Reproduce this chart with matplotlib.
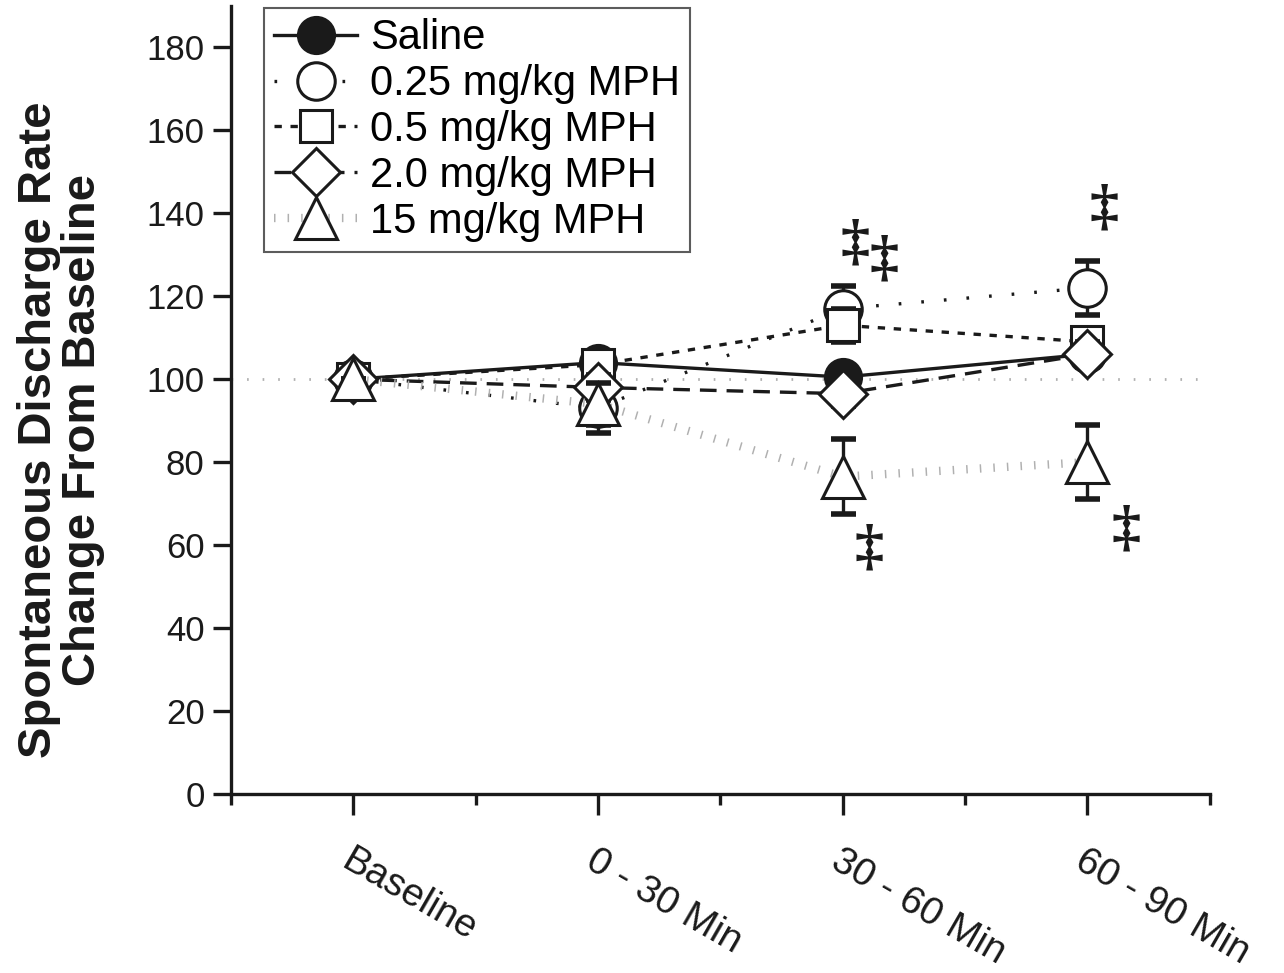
import matplotlib
matplotlib.use("Agg")
import matplotlib.pyplot as plt
import numpy as np

plt.rcParams['font.family'] = ['Liberation Sans', 'DejaVu Sans']

categories = ["Baseline", "0 - 30 Min", "30 - 60 Min", "60 - 90 Min"]
saline = [100, 104, 100.5, 106]
saline_err = [0, 2, 2, 2]
mph025 = [100, 93, 117, 122]
mph025_err = [0, 6, 5.5, 6.5]
mph05 = [100, 103.5, 113, 109]
mph05_err = [0, 2, 4, 3]
mph20 = [100, 98, 96.5, 106]
mph20_err = [0, 3, 3, 3]
mph15 = [100, 94, 76.5, 80]
mph15_err = [0, 5, 9, 9]

labels = ["Saline", "0.25 mg/kg MPH", "0.5 mg/kg MPH", "2.0 mg/kg MPH", "15 mg/kg MPH"]

# significance marks (x position in category units, y value)
sig_x = [2.05, 2.17, 2.11, 3.07, 3.16]
sig_y = [132.5, 128.5, 59, 141, 63.5]

fig = plt.figure(figsize=(12.84, 9.73), dpi=100)
ax = fig.add_axes([0.18, 0.184, 0.762, 0.81])

x = np.arange(len(categories))

ax.axhline(100, color='#b0b0b0', lw=2, linestyle=(0, (0.6, 5)), zorder=1)

styles = [
    dict(data=saline, err=saline_err, marker='o', mfc='#1a1a1a', ms=26, ls='-', lw=2.4, color='#1a1a1a'),
    dict(data=mph025, err=mph025_err, marker='o', mfc='white', ms=27, ls=(0, (0.8, 6)), lw=2.4, color='#1a1a1a'),
    dict(data=mph05, err=mph05_err, marker='s', mfc='white', ms=23, ls=(0, (2.2, 2.6)), lw=2.4, color='#1a1a1a'),
    dict(data=mph20, err=mph20_err, marker='D', mfc='white', ms=24, ls=(0, (5, 3)), lw=2.4, color='#1a1a1a'),
    dict(data=mph15, err=mph15_err, marker='^', mfc='white', ms=30, ls=(0, (0.18, 1.45)), lw=6, color='#b0b0b0'),
]

handles = []
for i, st in enumerate(styles):
    ax.errorbar(x, st['data'], yerr=st['err'], fmt='none', ecolor='#1a1a1a',
                elinewidth=2.4, capsize=9, capthick=4, zorder=2 + i)
    h, = ax.plot(x, st['data'], linestyle=st['ls'], lw=st['lw'], color=st['color'],
                 marker=st['marker'], ms=st['ms'], mfc=st['mfc'], mec='#1a1a1a',
                 mew=2.2, zorder=3 + i, dash_capstyle='butt')
    handles.append(h)

for sx, sy in zip(sig_x, sig_y):
    ax.text(sx, sy, "\u2021", fontsize=42, fontweight='bold', ha='center', va='center',
            color='#1a1a1a', family=['Liberation Serif', 'DejaVu Serif'])

ax.set_xlim(-0.5, 3.5)
ax.set_ylim(0, 190)
ax.set_yticks(np.arange(0, 181, 20))
ax.set_xticks(x)
ax.set_xticks([-0.5, 0.5, 1.5, 2.5, 3.5], minor=True)
ax.set_xticklabels(categories, rotation=-30, ha='left', va='top', rotation_mode='anchor')

for s in ['top', 'right']:
    ax.spines[s].set_visible(False)
for s in ['left', 'bottom']:
    ax.spines[s].set_linewidth(2.4)
    ax.spines[s].set_color('#1a1a1a')

ax.tick_params(axis='y', which='major', direction='out', length=13, width=2.4,
               labelsize=25, colors='#1a1a1a', pad=6)
ax.tick_params(axis='x', which='major', direction='out', length=15, width=2.4,
               labelsize=28, colors='#1a1a1a', pad=20)
ax.tick_params(axis='x', which='minor', direction='out', length=8, width=2.4, colors='#1a1a1a')

ax.set_ylabel("Spontaneous Discharge Rate\nChange From Baseline", fontsize=34,
              fontweight='bold', color='#1a1a1a', labelpad=30, linespacing=1.0)
ax.yaxis.label.set_y(0.462)

leg = ax.legend(handles, labels, loc='upper left', bbox_to_anchor=(0.031, 1.0),
                fontsize=30, frameon=True, fancybox=False, edgecolor='#333333',
                borderpad=0.25, labelspacing=0.14, handlelength=2.0, handletextpad=0.3,
                borderaxespad=0.05, markerscale=1.0)
leg.get_frame().set_linewidth(1.5)

fig.savefig("out.png", dpi=100, facecolor='white')
